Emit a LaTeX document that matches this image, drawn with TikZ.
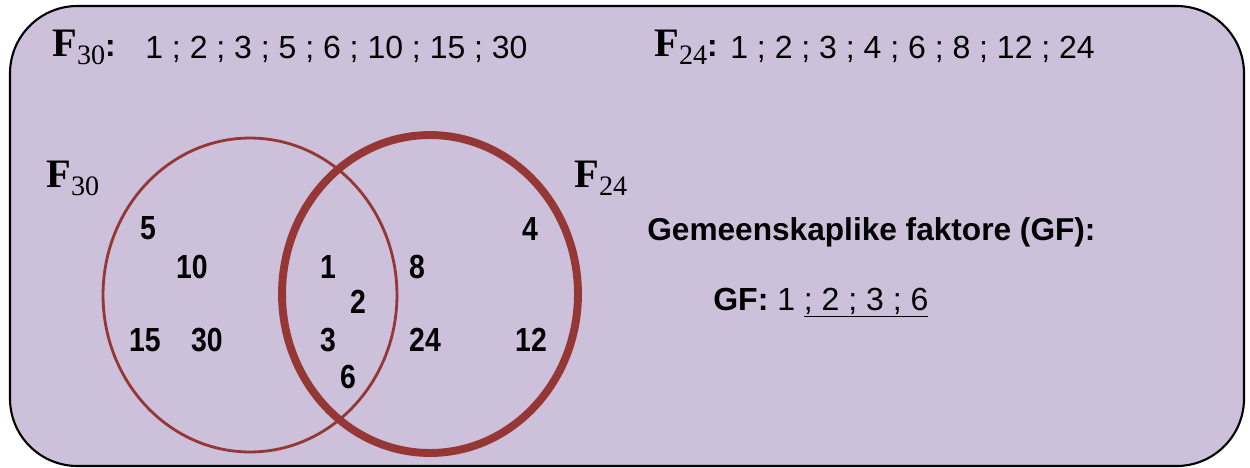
\documentclass[tikz,border=0pt]{standalone}
\usepackage{fontspec}
\setmainfont{Liberation Serif}
\setsansfont{Liberation Sans}
\newfontfamily\narrowsans{Liberation Sans}[FakeStretch=0.85]
\definecolor{lilac}{HTML}{CCC0DA}
\definecolor{setred}{HTML}{953735}

% F with subscript, Times style
\newcommand{\Fsub}[1]{{\fontsize{23}{23}\selectfont\bfseries F}\raisebox{-0.5em}{\fontsize{16}{16}\selectfont #1}}

\begin{document}
\begin{tikzpicture}[x=0.02cm,y=-0.02cm,
    list/.style={anchor=base west,inner sep=0pt,font=\sffamily\fontsize{18.2}{18}\selectfont},
    head/.style={anchor=base west,inner sep=0pt},
    num/.style={inner sep=0pt,font=\narrowsans\bfseries\fontsize{19}{19}\selectfont}]
    \useasboundingbox (0,0) rectangle (1250,467);
    \draw [fill=lilac,line width=1.2pt,rounded corners=1.35cm] (10,6) rectangle (1244,466);
    % the two sets
    \draw [setred,line width=4.5pt] (430,294) ellipse [x radius=2.96cm,y radius=3.18cm];
    \draw [setred,line width=1.6pt] (250,295) ellipse [x radius=2.94cm,y radius=3.14cm];
    % top lines
    \path (52,56) node [head] (f30head) {\Fsub{30}{\sffamily\bfseries\fontsize{18}{18}\selectfont:}};
    \path (145,58) node [list] (f30list) {1 ; 2 ; 3 ; 5 ; 6 ; 10 ; 15 ; 30};
    \path (654,56) node [head] (f24head) {\Fsub{24}{\sffamily\bfseries\fontsize{18}{18}\selectfont:}};
    \path (730,58) node [list] (f24list) {1 ; 2 ; 3 ; 4 ; 6 ; 8 ; 12 ; 24};
    % set names
    \path (46,187) node [head] (f30name) {\Fsub{30}};
    \path (574,187) node [head] (f24name) {\Fsub{24}};
    % only in F30
    \path (148,228) node [num] (n5) {5};
    \path (192,267) node [num] (n10) {10};
    \path (145,340) node [num] (n15) {15};
    \path (207,340) node [num] (n30) {30};
    % common
    \path (328,267) node [num] (n1) {1};
    \path (358,302) node [num] (n2) {2};
    \path (328,340) node [num] (n3) {3};
    \path (348,377) node [num] (n6) {6};
    % only in F24
    \path (417,267) node [num] (n8) {8};
    \path (425,340) node [num] (n24) {24};
    \path (530,229) node [num] (n4) {4};
    \path (531,340) node [num] (n12) {12};
    % common factors
    \path (647,240) node [list,font=\sffamily\bfseries\fontsize{18}{18}\selectfont] (gfhead) {Gemeenskaplike faktore (GF):};
    \path (713,310) node [list] (gflist) {\textbf{GF:} 1 \underline{; 2 ; 3 ; 6}};
\end{tikzpicture}
\end{document}
